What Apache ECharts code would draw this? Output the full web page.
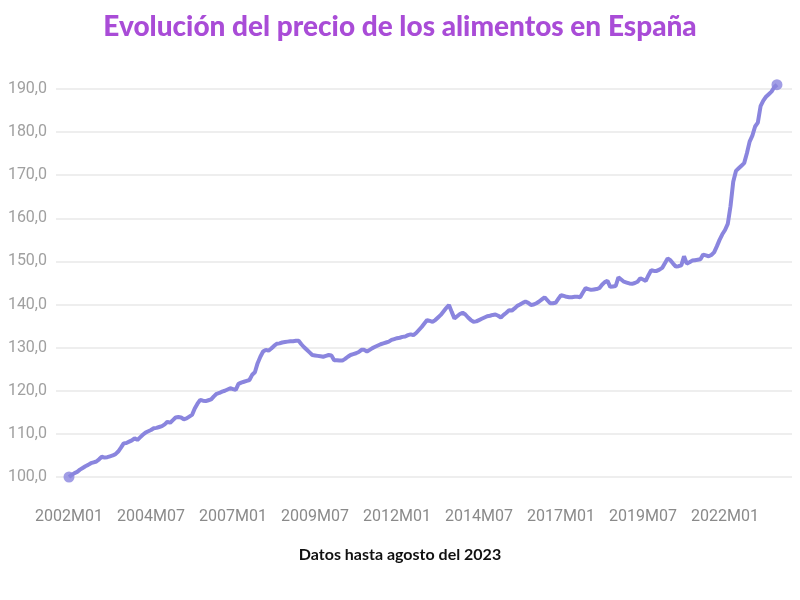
<!DOCTYPE html>
<html>
<head>
<meta charset="utf-8">
<script src="https://cdn.jsdelivr.net/npm/echarts@6/dist/echarts.min.js"></script>
<style>html,body{margin:0;padding:0;background:#fff}#c{width:800px;height:600px}</style>
</head>
<body>
<div id="c"></div>
<script>
// Monthly food price index, 2002M01 .. 2023M08
const values2002 = [100.0, 100.5, 100.9, 101.2, 101.7, 102.1, 102.5, 102.8, 103.2, 103.4, 103.6, 104.1];
const values2003 = [104.7, 104.5, 104.6, 104.8, 105.0, 105.3, 105.9, 106.8, 107.8, 107.9, 108.2, 108.5];
const values2004 = [109.0, 108.6, 109.2, 109.8, 110.3, 110.6, 110.9, 111.3, 111.4, 111.6, 111.8, 112.2];
const values2005 = [112.8, 112.6, 113.2, 113.8, 113.9, 113.8, 113.4, 113.6, 114.0, 114.4, 115.9, 117.0];
const values2006 = [117.9, 117.7, 117.6, 117.8, 118.0, 118.7, 119.3, 119.5, 119.8, 120.0, 120.3, 120.6];
const values2007 = [120.4, 120.2, 121.6, 121.9, 122.1, 122.3, 122.5, 123.7, 124.3, 126.4, 127.9, 129.1];
const values2008 = [129.5, 129.3, 129.8, 130.4, 130.9, 131.0, 131.2, 131.3, 131.4, 131.5, 131.5, 131.6];
const values2009 = [131.6, 130.8, 130.1, 129.5, 128.9, 128.3, 128.2, 128.1, 128.0, 127.9, 128.1, 128.3];
const values2010 = [128.2, 127.1, 127.1, 127.0, 127.0, 127.4, 127.9, 128.3, 128.5, 128.7, 129.0, 129.5];
const values2011 = [129.5, 129.1, 129.5, 129.9, 130.2, 130.5, 130.8, 131.0, 131.2, 131.4, 131.8, 132.0];
const values2012 = [132.2, 132.3, 132.5, 132.6, 132.9, 133.1, 132.9, 133.4, 134.1, 134.8, 135.6, 136.4];
const values2013 = [136.2, 136.0, 136.4, 137.0, 137.6, 138.4, 139.2, 139.9, 138.3, 136.8, 137.3, 137.8];
const values2014 = [138.1, 137.7, 137.0, 136.4, 136.0, 136.1, 136.4, 136.7, 137.0, 137.3, 137.4, 137.6];
const values2015 = [137.7, 137.4, 137.0, 137.6, 138.1, 138.7, 138.6, 139.1, 139.7, 140.0, 140.4, 140.7];
const values2016 = [140.4, 139.9, 140.0, 140.3, 140.7, 141.2, 141.7, 141.0, 140.3, 140.3, 140.4, 141.3];
const values2017 = [142.2, 142.0, 141.8, 141.7, 141.7, 141.8, 141.8, 141.7, 142.8, 143.8, 143.6, 143.4];
const values2018 = [143.5, 143.6, 143.8, 144.6, 145.2, 145.5, 144.1, 144.2, 144.3, 146.3, 145.8, 145.3];
const values2019 = [145.1, 144.9, 144.8, 145.0, 145.3, 146.1, 145.8, 145.5, 146.8, 148.0, 147.8, 147.8];
const values2020 = [148.1, 148.5, 149.6, 150.7, 150.3, 149.5, 148.8, 148.9, 149.1, 151.2, 149.5, 149.8];
const values2021 = [150.2, 150.3, 150.4, 150.5, 151.6, 151.4, 151.2, 151.5, 152.1, 153.5, 155.0, 156.3];
const values2022 = [157.3, 158.7, 162.8, 168.5, 171.0, 171.6, 172.2, 172.8, 175.1, 177.8, 179.2, 181.3];
const values2023 = [182.2, 186.0, 187.3, 188.2, 188.8, 189.4, 190.4, 191.0];

const values = [].concat(values2002, values2003, values2004, values2005, values2006, values2007,
  values2008, values2009, values2010, values2011, values2012, values2013, values2014, values2015,
  values2016, values2017, values2018, values2019, values2020, values2021, values2022, values2023);

// Category labels, one per month
const categories = values.map((v, i) => {
  const y = 2002 + Math.floor(i / 12);
  const m = (i % 12) + 1;
  return y + 'M' + (m < 10 ? '0' + m : m);
});
const tickLabels = ['2002M01', '2004M07', '2007M01', '2009M07', '2012M01', '2014M07', '2017M01', '2019M07', '2022M01'];
const tickIndexes = tickLabels.map(l => categories.indexOf(l));

const seriesData = values.map((v, i) => [i, v]);
const endPoints = [seriesData[0], seriesData[seriesData.length - 1]];

const chart = echarts.init(document.getElementById('c'));
chart.setOption({
  backgroundColor: '#ffffff',
  animation: false,
  title: [{
    text: 'Evolución del precio de los alimentos en España',
    left: 'center',
    top: 8,
    textStyle: { fontFamily: 'Lato', fontWeight: 900, fontSize: 28, color: '#a94cd7' }
  }, {
    text: 'Datos hasta agosto del 2023',
    left: 'center',
    top: 542,
    textStyle: { fontFamily: 'Lato', fontWeight: 'bold', fontSize: 16, color: '#111111' }
  }],
  grid: { left: 56, right: 8, top: 89, bottom: 123, containLabel: false },
  xAxis: {
    type: 'value',
    min: -4.76,
    max: 264.5,
    axisLine: { show: false },
    axisTick: { show: false },
    splitLine: { show: false },
    axisLabel: {
      customValues: tickIndexes,
      formatter: v => categories[Math.round(v)] || '',
      color: '#8a8a8a',
      fontFamily: 'Roboto',
      fontSize: 16,
      margin: 32
    }
  },
  yAxis: {
    type: 'value',
    min: 100,
    max: 190,
    interval: 10,
    axisLine: { show: false },
    axisTick: { show: false },
    splitLine: { lineStyle: { color: '#e8e8e8', width: 1.5 } },
    axisLabel: {
      formatter: v => v.toFixed(1).replace('.', ','),
      color: '#a0a0a0',
      fontFamily: 'Roboto',
      fontSize: 16,
      margin: 9
    }
  },
  series: [{
    type: 'line',
    data: seriesData,
    showSymbol: false,
    clip: false,
    lineStyle: { color: '#8a85de', width: 4 },
    itemStyle: { color: '#8a85de' }
  }, {
    type: 'scatter',
    data: endPoints,
    symbolSize: 11,
    clip: false,
    itemStyle: { color: '#8a85de' }
  }]
});
</script>
</body>
</html>
